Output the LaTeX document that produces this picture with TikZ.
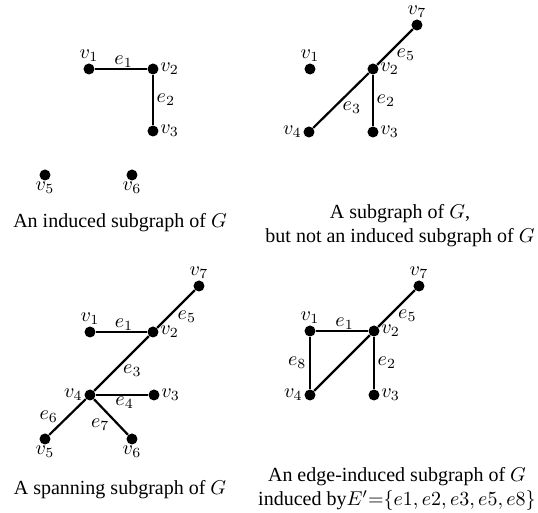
\documentclass[tikz,border=0pt]{standalone}
\usepackage{fontspec}
\setmainfont{Liberation Serif}
\usetikzlibrary{positioning}

\begin{document}
\begin{tikzpicture}[x=0.5pt,y=-0.5pt]
\tikzset{
  vtx/.style={circle,fill,inner sep=0pt,minimum size=5.5pt},
  lbl/.style={inner sep=0.3pt},
  every label/.style={inner sep=0.5pt},
  edge/.style={line width=1.1pt},
  captext/.style={align=center,font=\normalsize}
}
\useasboundingbox (0,0) rectangle (538,513);

% induced subgraph
\node[vtx,label=above:$v_1$] (a1) at (89,69) {};
\node[vtx,label=right:$v_2$] (a2) at (153,69) {};
\node[vtx,label=right:$v_3$] (a3) at (153,131) {};
\node[vtx,label=below:$v_5$] (a5) at (45,175) {};
\node[vtx,label=below:$v_6$] (a6) at (132,175) {};
\draw[edge] (a1) -- node[lbl,above,pos=.55] {$e_1$} (a2);
\draw[edge] (a2) -- node[lbl,right=1pt] {$e_2$} (a3);
\node[captext] (capa) at (120,223) {An induced subgraph of $G$};

% subgraph, not induced
\node[vtx,label=above:$v_7$] (b7) at (417,25) {};
\node[vtx,label=above:$v_1$] (b1) at (310,69) {};
\node[vtx,label=right:$v_2$] (b2) at (373,69) {};
\node[vtx,label=left:$v_4$] (b4) at (309,132) {};
\node[vtx,label=right:$v_3$] (b3) at (373,132) {};
\draw[edge] (b4) -- node[lbl,below right] {$e_3$} (b2);
\draw[edge] (b2) -- node[lbl,below right] {$e_5$} (b7);
\draw[edge] (b2) -- node[lbl,right=1pt] {$e_2$} (b3);
\node[captext] (capb) at (400,226) {A subgraph of $G$,\\but not an induced subgraph of $G$};

% spanning subgraph
\node[vtx,label=above:$v_7$] (c7) at (199,286) {};
\node[vtx,label=above:$v_1$] (c1) at (90,332) {};
\node[vtx,label=right:$v_2$] (c2) at (153,332) {};
\node[vtx,label=left:$v_4$] (c4) at (90,395) {};
\node[vtx,label=right:$v_3$] (c3) at (154,395) {};
\node[vtx,label=below:$v_5$] (c5) at (45,439) {};
\node[vtx,label=below:$v_6$] (c6) at (132,439) {};
\draw[edge] (c1) -- node[lbl,above,pos=.55] {$e_1$} (c2);
\draw[edge] (c2) -- node[lbl,below right] {$e_5$} (c7);
\draw[edge] (c4) -- node[lbl,below right] {$e_3$} (c2);
\draw[edge] (c4) -- node[lbl,below,pos=.55] {$e_4$} (c3);
\draw[edge] (c4) -- node[lbl,left=4pt] {$e_6$} (c5);
\draw[edge] (c4) -- node[lbl,below left] {$e_7$} (c6);
\node[captext] (capc) at (120,490) {A spanning subgraph of $G$};

% edge-induced subgraph
\node[vtx,label=above:$v_7$] (d7) at (419,286) {};
\node[vtx,label=above:$v_1$] (d1) at (310,331) {};
\node[vtx,label=right:$v_2$] (d2) at (374,331) {};
\node[vtx,label=left:$v_4$] (d4) at (310,395) {};
\node[vtx,label=right:$v_3$] (d3) at (374,395) {};
\draw[edge] (d1) -- node[lbl,above,pos=.55] {$e_1$} (d2);
\draw[edge] (d2) -- node[lbl,below right] {$e_5$} (d7);
\draw[edge] (d4) -- (d2);
\draw[edge] (d1) -- node[lbl,left=1pt] {$e_8$} (d4);
\draw[edge] (d2) -- node[lbl,right=1pt] {$e_2$} (d3);
\node[captext] (capd) at (397,489) {An edge-induced subgraph of $G$\\induced by$E'{=}\{e1,e2,e3,e5,e8\}$};
\end{tikzpicture}
\end{document}
